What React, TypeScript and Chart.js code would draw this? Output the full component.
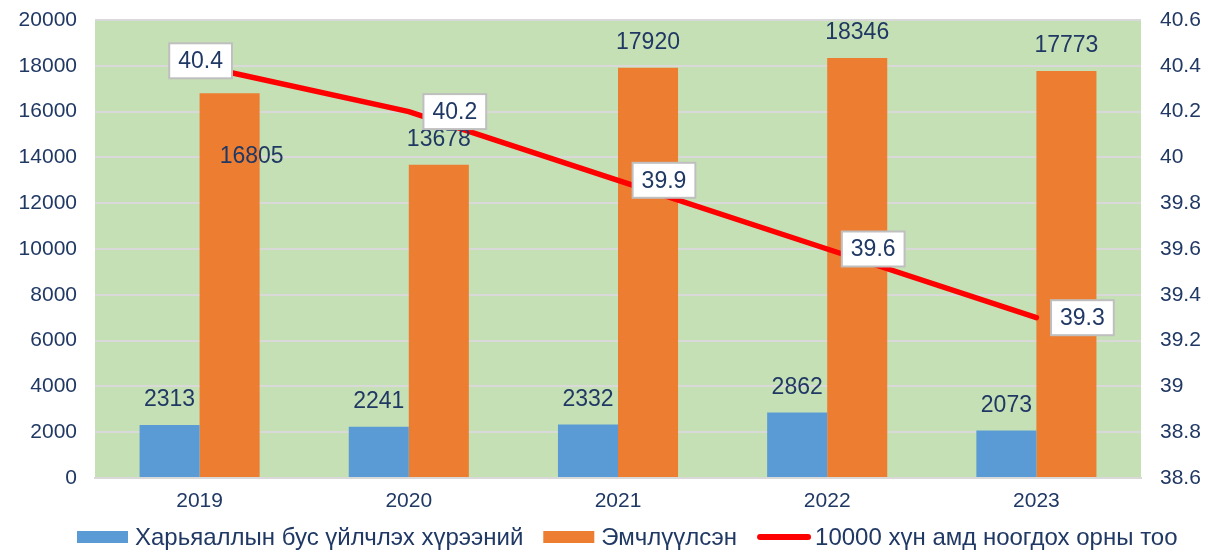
import React, { useEffect, useRef } from 'react';
import { Chart, registerables } from 'chart.js';

Chart.register(...registerables);

const categories = ['2019', '2020', '2021', '2022', '2023'];
const seriesNames = [
  'Харьяаллын бус үйлчлэх хүрээний',
  'Эмчлүүлсэн',
  '10000 хүн амд ноогдох орны тоо',
];
const outsideValues = [2313, 2241, 2332, 2862, 2073];
const treatedValues = [16805, 13678, 17920, 18346, 17773];
const bedsPer10k = [40.4, 40.2, 39.9, 39.6, 39.3];
const leftTickValues = [0, 2000, 4000, 6000, 8000, 10000, 12000, 14000, 16000, 18000, 20000];
const rightTickValues = [38.6, 38.8, 39, 39.2, 39.4, 39.6, 39.8, 40, 40.2, 40.4, 40.6];
const rightTickLabels = ['38.6', '38.8', '39', '39.2', '39.4', '39.6', '39.8', '40', '40.2', '40.4', '40.6'];

const FONT = '"Liberation Sans", Arial, sans-serif';
const TEXT = '#203864';
const BLUE = '#5b9bd5';
const ORANGE = '#ed7d31';
const RED = '#ff0000';
const PLOT_BG = '#c5e0b4';
const GRID = '#d9d9d9';
const TICK_SIZE = 21;

// label placement (styling only)
const barLabelDy = -25;
const treatedLabelShift: Record<number, [number, number]> = { 0: [22, 63] };
const lineLabelShift: Record<number, [number, number]> = { 0: [1, -5] };
const lineLabelDefault: [number, number] = [46, 0];

const bgPlugin = {
  id: 'plotBg',
  beforeDraw(chart: any) {
    const { ctx, chartArea } = chart;
    ctx.save();
    ctx.fillStyle = PLOT_BG;
    ctx.fillRect(chartArea.left, chartArea.top, chartArea.right - chartArea.left, chartArea.bottom - chartArea.top);
    ctx.restore();
  },
};

const labelsPlugin = {
  id: 'valueLabels',
  afterDatasetsDraw(chart: any) {
    const { ctx } = chart;
    ctx.save();
    ctx.font = `23px ${FONT}`;
    ctx.textAlign = 'center';
    ctx.textBaseline = 'middle';
    [0, 1].forEach((di) => {
      const meta = chart.getDatasetMeta(di);
      const data = chart.data.datasets[di].data as number[];
      meta.data.forEach((el: any, i: number) => {
        let dx = 0;
        let dy = barLabelDy;
        if (di === 1 && treatedLabelShift[i]) {
          dx = treatedLabelShift[i][0];
          dy = treatedLabelShift[i][1];
        }
        ctx.fillStyle = TEXT;
        ctx.fillText(String(data[i]), el.x + dx, el.y + dy);
      });
    });
    const lmeta = chart.getDatasetMeta(2);
    const ldata = chart.data.datasets[2].data as number[];
    lmeta.data.forEach((el: any, i: number) => {
      const [dx, dy] = lineLabelShift[i] || lineLabelDefault;
      const txt = String(ldata[i]);
      const w = ctx.measureText(txt).width + 18;
      const h = 35;
      const cx = el.x + dx;
      const cy = el.y + dy;
      ctx.fillStyle = '#ffffff';
      ctx.fillRect(cx - w / 2, cy - h / 2, w, h);
      ctx.strokeStyle = '#bfbfbf';
      ctx.lineWidth = 2;
      ctx.strokeRect(cx - w / 2, cy - h / 2, w, h);
      ctx.fillStyle = TEXT;
      ctx.fillText(txt, cx, cy + 1);
    });
    ctx.restore();
  },
};

const legendPlugin = {
  id: 'customLegend',
  afterDraw(chart: any) {
    const { ctx } = chart;
    ctx.save();
    ctx.font = `24px ${FONT}`;
    ctx.textBaseline = 'middle';
    ctx.textAlign = 'left';
    const cy = 537;
    let x = 77;
    const colors = [BLUE, ORANGE, RED];
    seriesNames.forEach((name, i) => {
      if (i < 2) {
        ctx.fillStyle = colors[i];
        ctx.fillRect(x, cy - 6, 51, 12);
      } else {
        ctx.strokeStyle = colors[i];
        ctx.lineWidth = 6;
        ctx.lineCap = 'round';
        ctx.beginPath();
        ctx.moveTo(x + 3, cy);
        ctx.lineTo(x + 51, cy);
        ctx.stroke();
      }
      x += 58;
      ctx.fillStyle = TEXT;
      ctx.fillText(name, x, cy + 1);
      x += ctx.measureText(name).width + 20;
    });
    ctx.restore();
  },
};

const fixVerticalPadding = (scale: any, width: number) => {
  scale.width = width;
  scale.paddingTop = 0;
  scale.paddingBottom = 0;
};

export default function App() {
  const ref = useRef<HTMLCanvasElement | null>(null);
  useEffect(() => {
    if (!ref.current) return;
    const chart = new Chart(ref.current, {
      type: 'bar',
      data: {
        labels: categories,
        datasets: [
          {
            type: 'bar',
            label: seriesNames[0],
            data: outsideValues,
            backgroundColor: BLUE,
            yAxisID: 'y',
            order: 1,
            categoryPercentage: 0.574,
            barPercentage: 1,
          },
          {
            type: 'bar',
            label: seriesNames[1],
            data: treatedValues,
            backgroundColor: ORANGE,
            yAxisID: 'y',
            order: 1,
            categoryPercentage: 0.574,
            barPercentage: 1,
          },
          {
            type: 'line',
            label: seriesNames[2],
            data: bedsPer10k,
            borderColor: RED,
            backgroundColor: RED,
            borderWidth: 5.5,
            borderCapStyle: 'round',
            pointRadius: 0,
            tension: 0,
            yAxisID: 'y1',
            order: 0,
          } as any,
        ],
      },
      options: {
        animation: false,
        responsive: true,
        maintainAspectRatio: false,
        layout: { padding: { top: 20, bottom: 40, left: 0, right: 0 } },
        plugins: { legend: { display: false }, tooltip: { enabled: false } },
        scales: {
          x: {
            grid: { display: false, drawTicks: false },
            border: { display: true, color: GRID, width: 2 },
            ticks: { color: TEXT, font: { family: FONT, size: TICK_SIZE }, padding: 11 },
            afterFit(scale: any) {
              scale.height = 32;
              scale.paddingLeft = 0;
              scale.paddingRight = 0;
            },
          },
          y: {
            position: 'left',
            min: 0,
            max: 20000,
            afterBuildTicks(scale: any) {
              scale.ticks = leftTickValues.map((v) => ({ value: v }));
            },
            grid: { color: GRID, lineWidth: 2, drawTicks: false },
            border: { display: false },
            ticks: {
              color: TEXT,
              font: { family: FONT, size: TICK_SIZE },
              padding: 18,
              callback: (v: any) => String(v),
            },
            afterFit(scale: any) {
              fixVerticalPadding(scale, 95);
            },
          },
          y1: {
            position: 'right',
            min: 38.6,
            max: 40.6,
            afterBuildTicks(scale: any) {
              scale.ticks = rightTickValues.map((v) => ({ value: v }));
            },
            grid: { display: false, drawTicks: false },
            border: { display: false },
            ticks: {
              color: TEXT,
              font: { family: FONT, size: TICK_SIZE },
              padding: 19,
              callback: (v: any) => {
                const idx = rightTickValues.findIndex((t) => Math.abs(t - Number(v)) < 1e-6);
                return idx >= 0 ? rightTickLabels[idx] : '';
              },
            },
            afterFit(scale: any) {
              fixVerticalPadding(scale, 66);
            },
          },
        },
      },
      plugins: [bgPlugin, labelsPlugin, legendPlugin],
    });
    return () => chart.destroy();
  }, []);
  return (
    <div style={{ position: 'absolute', left: 0, top: 0, width: 1207, height: 550, background: '#ffffff' }}>
      <canvas ref={ref} />
    </div>
  );
}
